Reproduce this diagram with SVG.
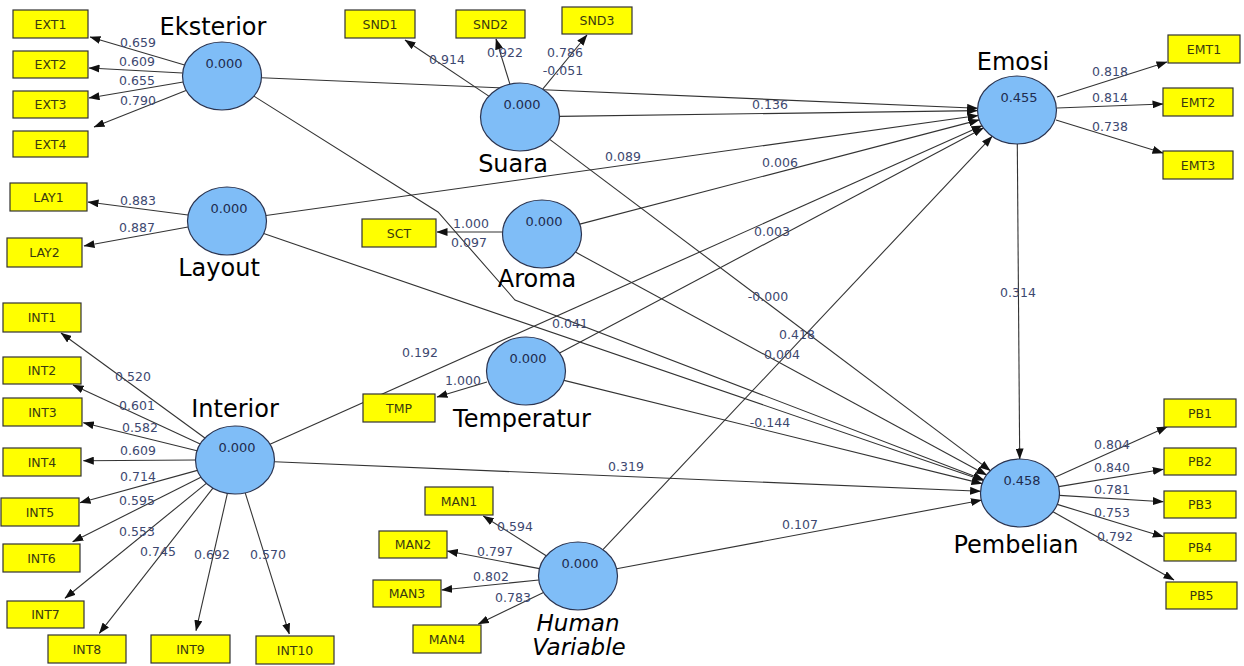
<svg xmlns="http://www.w3.org/2000/svg" width="1244" height="666" viewBox="0 0 1244 666">
<defs>
<marker id="ah" markerWidth="11" markerHeight="8" refX="10.5" refY="4" orient="auto" markerUnits="userSpaceOnUse"><path d="M0,0 L11,4 L0,8 z" fill="#111"/></marker>
<style>
.lv ellipse{fill:#7fbdf7;stroke:#2b3450;stroke-width:1.2}
.ind rect{fill:#ffff00;stroke:#333;stroke-width:1.2}
.ind text{font-family:"DejaVu Sans",sans-serif;font-size:12.5px;fill:#3a3a10;text-anchor:middle}
.val{font-family:"DejaVu Sans",sans-serif;font-size:13px;fill:#1e2b4e;text-anchor:middle}
.name{font-family:"DejaVu Sans",sans-serif;font-size:24px;fill:#000;text-anchor:middle}
.it{font-style:italic;font-size:23px}
#connectors line,#connectors polyline{stroke:#333;stroke-width:1.1;fill:none;marker-end:url(#ah)}
.w{font-family:"DejaVu Sans",sans-serif;font-size:12.5px;fill:#3d4870;text-anchor:middle}
</style>
</defs>
<rect width="1244" height="666" fill="#fff"/>
<g id="connectors">
<line x1="261.4" y1="77.7" x2="977.6" y2="108.3"/>
<line x1="559.5" y1="116.4" x2="977.5" y2="110.6"/>
<line x1="266" y1="215.5" x2="978" y2="115.5"/>
<line x1="579.8" y1="224.1" x2="979.2" y2="119.9"/>
<line x1="559.6" y1="353.1" x2="983.4" y2="127.9"/>
<line x1="270" y1="444.3" x2="982" y2="125.7"/>
<line x1="602.9" y1="549.6" x2="992.1" y2="136.4"/>
<line x1="1017.3" y1="144" x2="1019.7" y2="459"/>
<polyline points="253.9,96.1 438,212 515,300 983.6,479.8"/>
<line x1="549.7" y1="139.4" x2="990.3" y2="470.6"/>
<line x1="263.7" y1="233.6" x2="983.3" y2="480.4"/>
<line x1="575.4" y1="252.1" x2="986.6" y2="474.9"/>
<line x1="564" y1="380.4" x2="982" y2="483.6"/>
<line x1="274.4" y1="461.7" x2="980.6" y2="491.3"/>
<line x1="616.6" y1="568.8" x2="981.4" y2="500.2"/>
<line x1="184.6" y1="65" x2="90" y2="37"/>
<line x1="182.6" y1="73" x2="89" y2="68"/>
<line x1="183.2" y1="82" x2="89" y2="98"/>
<line x1="186" y1="90.6" x2="94" y2="127"/>
<line x1="488.8" y1="96.1" x2="405" y2="40"/>
<line x1="509.9" y1="84.1" x2="496" y2="39"/>
<line x1="542.7" y1="89.2" x2="587" y2="35"/>
<line x1="1057" y1="97" x2="1167" y2="62"/>
<line x1="1057" y1="108" x2="1163" y2="104"/>
<line x1="1056" y1="120" x2="1163" y2="153"/>
<line x1="188" y1="215" x2="88" y2="202"/>
<line x1="188" y1="227" x2="84" y2="246"/>
<line x1="503" y1="232" x2="437" y2="232"/>
<line x1="487" y1="382" x2="437" y2="397"/>
<line x1="204.9" y1="438" x2="61" y2="333"/>
<line x1="200.2" y1="443.9" x2="73" y2="385"/>
<line x1="197" y1="450.7" x2="83.3" y2="422.7"/>
<line x1="195.5" y1="460" x2="83.3" y2="460.7"/>
<line x1="197.4" y1="470.4" x2="80" y2="502.7"/>
<line x1="200.9" y1="477.2" x2="72.7" y2="541.7"/>
<line x1="206.3" y1="483.4" x2="65" y2="598.3"/>
<line x1="212.9" y1="488.2" x2="99.3" y2="633.3"/>
<line x1="227.4" y1="493.4" x2="196" y2="630.7"/>
<line x1="245.2" y1="492.8" x2="289.3" y2="634"/>
<line x1="546.2" y1="555.8" x2="483.3" y2="516"/>
<line x1="539.4" y1="568.6" x2="447.3" y2="551"/>
<line x1="538.8" y1="580" x2="441.7" y2="590"/>
<line x1="543.5" y1="592.6" x2="478.3" y2="624"/>
<line x1="1055" y1="477.2" x2="1167.3" y2="426.7"/>
<line x1="1058.8" y1="486.6" x2="1163.3" y2="469.3"/>
<line x1="1059.4" y1="495.4" x2="1163.3" y2="501.7"/>
<line x1="1057.2" y1="504.4" x2="1163.3" y2="536.7"/>
<line x1="1053" y1="511.7" x2="1174" y2="580"/>
</g>
<g id="weights">
<text class="w" x="138" y="47">0.659</text>
<text class="w" x="137" y="66">0.609</text>
<text class="w" x="137" y="85">0.655</text>
<text class="w" x="138" y="105">0.790</text>
<text class="w" x="447" y="64">0.914</text>
<text class="w" x="505" y="57">0.922</text>
<text class="w" x="565" y="57">0.786</text>
<text class="w" x="563" y="75">-0.051</text>
<text class="w" x="1110" y="76">0.818</text>
<text class="w" x="1110" y="102">0.814</text>
<text class="w" x="1110" y="131">0.738</text>
<text class="w" x="138" y="205">0.883</text>
<text class="w" x="137" y="232">0.887</text>
<text class="w" x="471" y="228">1.000</text>
<text class="w" x="469" y="247">0.097</text>
<text class="w" x="463" y="385">1.000</text>
<text class="w" x="770" y="109">0.136</text>
<text class="w" x="623" y="161">0.089</text>
<text class="w" x="780" y="167">0.006</text>
<text class="w" x="772" y="236">0.003</text>
<text class="w" x="420" y="357">0.192</text>
<text class="w" x="797" y="339">0.418</text>
<text class="w" x="768" y="301">-0.000</text>
<text class="w" x="782" y="359">0.004</text>
<text class="w" x="570" y="328">0.041</text>
<text class="w" x="770" y="427">-0.144</text>
<text class="w" x="626" y="471">0.319</text>
<text class="w" x="800" y="529">0.107</text>
<text class="w" x="1018" y="297">0.314</text>
<text class="w" x="133" y="381">0.520</text>
<text class="w" x="137" y="410">0.601</text>
<text class="w" x="140" y="432">0.582</text>
<text class="w" x="138" y="455">0.609</text>
<text class="w" x="138" y="481">0.714</text>
<text class="w" x="137" y="505">0.595</text>
<text class="w" x="137" y="536">0.553</text>
<text class="w" x="158" y="556">0.745</text>
<text class="w" x="212" y="559">0.692</text>
<text class="w" x="268" y="559">0.570</text>
<text class="w" x="515" y="531">0.594</text>
<text class="w" x="495" y="556">0.797</text>
<text class="w" x="491" y="581">0.802</text>
<text class="w" x="513" y="602">0.783</text>
<text class="w" x="1112" y="449">0.804</text>
<text class="w" x="1112" y="472">0.840</text>
<text class="w" x="1112" y="494">0.781</text>
<text class="w" x="1112" y="517">0.753</text>
<text class="w" x="1115" y="541">0.792</text>
</g>
<g id="Eksterior" class="lv"><ellipse cx="222" cy="76" rx="39.5" ry="34"/><text class="val" x="224" y="68">0.000</text><text class="name" x="213" y="35">Eksterior</text></g>
<g id="Suara" class="lv"><ellipse cx="520" cy="117" rx="39.5" ry="34"/><text class="val" x="522" y="109">0.000</text><text class="name" x="513" y="172">Suara</text></g>
<g id="Emosi" class="lv"><ellipse cx="1017" cy="110" rx="39.5" ry="34"/><text class="val" x="1019" y="102">0.455</text><text class="name" x="1013" y="70">Emosi</text></g>
<g id="Layout" class="lv"><ellipse cx="227" cy="221" rx="39.5" ry="34"/><text class="val" x="229" y="213">0.000</text><text class="name" x="219" y="276">Layout</text></g>
<g id="Aroma" class="lv"><ellipse cx="542" cy="234" rx="39.5" ry="34"/><text class="val" x="544" y="226">0.000</text><text class="name" x="537" y="287">Aroma</text></g>
<g id="Temperatur" class="lv"><ellipse cx="526" cy="371" rx="39.5" ry="34"/><text class="val" x="528" y="363">0.000</text><text class="name" x="522" y="427">Temperatur</text></g>
<g id="Interior" class="lv"><ellipse cx="235" cy="460" rx="39.5" ry="34"/><text class="val" x="237" y="452">0.000</text><text class="name" x="235" y="417">Interior</text></g>
<g id="HumanVariable" class="lv"><ellipse cx="578" cy="576" rx="39.5" ry="34"/><text class="name it" x="578" y="631">Human<tspan x="579" dy="24">Variable</tspan></text><text class="val" x="580" y="568">0.000</text></g>
<g id="Pembelian" class="lv"><ellipse cx="1020" cy="493" rx="39.5" ry="34"/><text class="val" x="1022" y="485">0.458</text><text class="name" x="1016" y="553">Pembelian</text></g>
<g id="EXT1" class="ind"><rect x="13" y="10" width="75" height="28"/><text x="50.5" y="28.5">EXT1</text></g>
<g id="EXT2" class="ind"><rect x="13" y="51" width="75" height="27"/><text x="50.5" y="69">EXT2</text></g>
<g id="EXT3" class="ind"><rect x="13" y="91" width="75" height="27"/><text x="50.5" y="109">EXT3</text></g>
<g id="EXT4" class="ind"><rect x="13" y="131" width="75" height="26"/><text x="50.5" y="148.5">EXT4</text></g>
<g id="SND1" class="ind"><rect x="345" y="10" width="70" height="28"/><text x="380" y="28.5">SND1</text></g>
<g id="SND2" class="ind"><rect x="456" y="10" width="69" height="28"/><text x="490.5" y="28.5">SND2</text></g>
<g id="SND3" class="ind"><rect x="562" y="7" width="70" height="27"/><text x="597" y="25">SND3</text></g>
<g id="EMT1" class="ind"><rect x="1168" y="35" width="72" height="28"/><text x="1204" y="53.5">EMT1</text></g>
<g id="EMT2" class="ind"><rect x="1163" y="88" width="70" height="28"/><text x="1198" y="106.5">EMT2</text></g>
<g id="EMT3" class="ind"><rect x="1163" y="151" width="70" height="28"/><text x="1198" y="169.5">EMT3</text></g>
<g id="LAY1" class="ind"><rect x="10" y="183" width="77" height="28"/><text x="48.5" y="201.5">LAY1</text></g>
<g id="LAY2" class="ind"><rect x="7" y="238" width="75" height="29"/><text x="44.5" y="257">LAY2</text></g>
<g id="SCT" class="ind"><rect x="362" y="219" width="74" height="28"/><text x="399" y="237.5">SCT</text></g>
<g id="TMP" class="ind"><rect x="363" y="394" width="72" height="28"/><text x="399" y="412.5">TMP</text></g>
<g id="INT1" class="ind"><rect x="3" y="303" width="78" height="29"/><text x="42" y="322">INT1</text></g>
<g id="INT2" class="ind"><rect x="3" y="357" width="78" height="27"/><text x="42" y="375">INT2</text></g>
<g id="INT3" class="ind"><rect x="3" y="398" width="79" height="28"/><text x="42.5" y="416.5">INT3</text></g>
<g id="INT4" class="ind"><rect x="3" y="448" width="78" height="28"/><text x="42" y="466.5">INT4</text></g>
<g id="INT5" class="ind"><rect x="1" y="498" width="78" height="28"/><text x="40" y="516.5">INT5</text></g>
<g id="INT6" class="ind"><rect x="3" y="544" width="77" height="28"/><text x="41.5" y="562.5">INT6</text></g>
<g id="INT7" class="ind"><rect x="7" y="601" width="77" height="27"/><text x="45.5" y="619">INT7</text></g>
<g id="INT8" class="ind"><rect x="48" y="635" width="78" height="28"/><text x="87" y="653.5">INT8</text></g>
<g id="INT9" class="ind"><rect x="151" y="635" width="79" height="28"/><text x="190.5" y="653.5">INT9</text></g>
<g id="INT10" class="ind"><rect x="256" y="636" width="78" height="28"/><text x="295" y="654.5">INT10</text></g>
<g id="MAN1" class="ind"><rect x="425" y="487" width="68" height="28"/><text x="459" y="505.5">MAN1</text></g>
<g id="MAN2" class="ind"><rect x="379" y="531" width="68" height="27"/><text x="413" y="549">MAN2</text></g>
<g id="MAN3" class="ind"><rect x="373" y="580" width="68" height="27"/><text x="407" y="598">MAN3</text></g>
<g id="MAN4" class="ind"><rect x="413" y="625" width="68" height="28"/><text x="447" y="643.5">MAN4</text></g>
<g id="PB1" class="ind"><rect x="1164" y="399" width="72" height="28"/><text x="1200" y="417.5">PB1</text></g>
<g id="PB2" class="ind"><rect x="1164" y="448" width="72" height="27"/><text x="1200" y="466">PB2</text></g>
<g id="PB3" class="ind"><rect x="1164" y="491" width="72" height="27"/><text x="1200" y="509">PB3</text></g>
<g id="PB4" class="ind"><rect x="1164" y="533" width="72" height="28"/><text x="1200" y="551.5">PB4</text></g>
<g id="PB5" class="ind"><rect x="1166" y="582" width="71" height="27"/><text x="1201.5" y="600">PB5</text></g>
</svg>
